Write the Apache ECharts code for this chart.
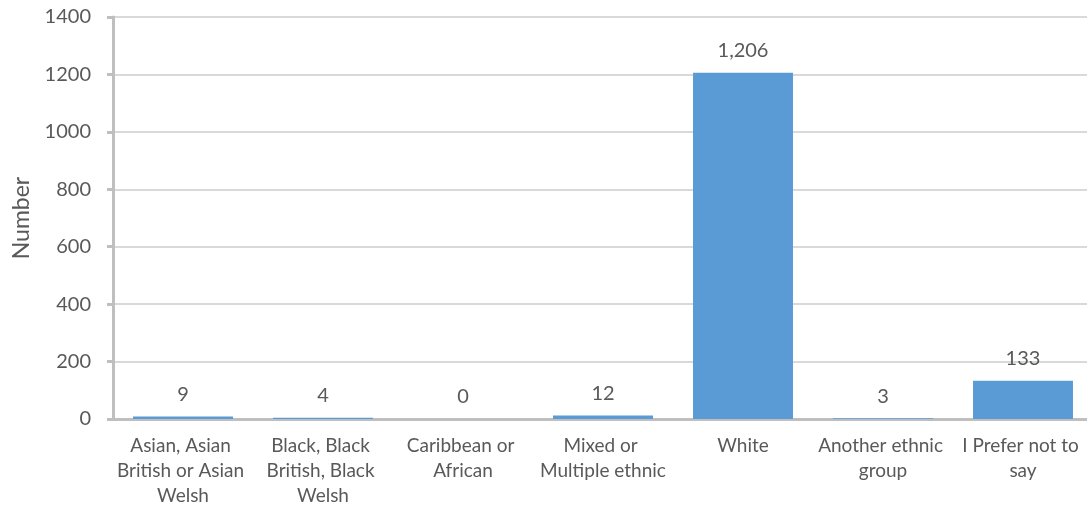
<!DOCTYPE html>
<html><head><meta charset="utf-8">
<script src="https://cdn.jsdelivr.net/npm/echarts@6/dist/echarts.min.js"></script>
<style>html,body{margin:0;padding:0;background:#fff;}#c{width:1087px;height:508px;}</style>
</head><body><div id="c"></div>
<script>
const categories = ["Asian, Asian British or Asian Welsh","Black, Black British, Black Welsh","Caribbean or African","Mixed or Multiple ethnic","White","Another ethnic group","I Prefer not to say"];
const values = [9, 4, 0, 12, 1206, 3, 133];
const yTicks = {min: 0, max: 1400, interval: 200};
const yName = "Number";

const chart = echarts.init(document.getElementById('c'));
const txt = '#595959', font = 'Lato';
chart.setOption({
  animation: false,
  grid: {left: 113, width: 980, top: 17, bottom: 89, containLabel: false, outerBoundsMode: 'none'},
  xAxis: {
    type: 'category', data: categories,
    axisLine: {lineStyle: {color: '#BFBFBF', width: 3}},
    axisTick: {length: 6, lineStyle: {color: '#BFBFBF', width: 3}},
    axisLabel: {color: txt, fontFamily: font, fontSize: 19, margin: 14, lineHeight: 25,
      width: 136, overflow: 'break', interval: 0}
  },
  yAxis: {
    type: 'value', min: yTicks.min, max: yTicks.max, interval: yTicks.interval,
    name: yName, nameLocation: 'middle', nameGap: 80,
    nameTextStyle: {color: txt, fontFamily: font, fontSize: 23},
    axisLine: {show: true, lineStyle: {color: '#BFBFBF', width: 3}},
    axisTick: {show: true, length: 6, lineStyle: {color: '#BFBFBF', width: 3}},
    splitLine: {lineStyle: {color: '#D9D9D9', width: 2}},
    axisLabel: {color: txt, fontFamily: font, fontSize: 20, margin: 22, formatter: v => String(v)}
  },
  series: [{
    type: 'bar', data: values, barCategoryGap: '28.6%',
    itemStyle: {color: '#5B9BD5'},
    label: {show: true, position: 'top', distance: 12, color: txt, fontFamily: font, fontSize: 20,
      formatter: p => p.value.toLocaleString('en-US')}
  }]
});
</script></body></html>
